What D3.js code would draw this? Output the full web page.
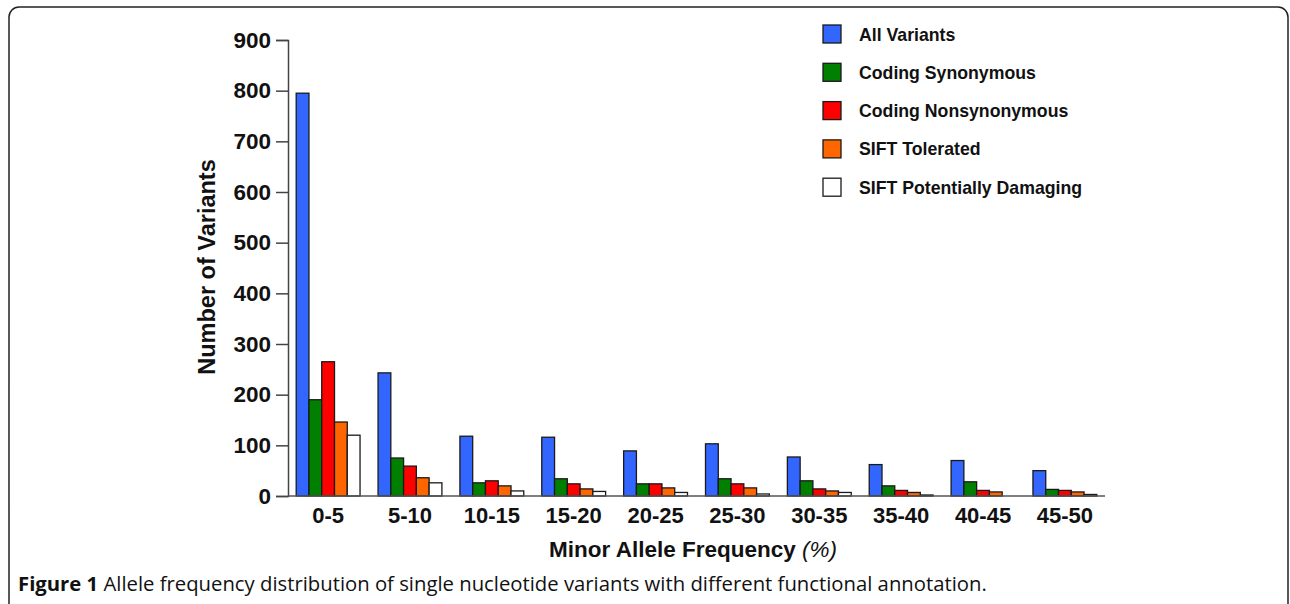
<!DOCTYPE html>
<html>
<head>
<meta charset="utf-8">
<script src="https://cdn.jsdelivr.net/npm/d3@7"></script>
<style>
  body { margin: 0; background: #fff; }
  svg { display: block; }
</style>
</head>
<body>
<div id="chart"></div>
<script>
// bins of minor allele frequency (%)
const categories = ["0-5", "5-10", "10-15", "15-20", "20-25", "25-30", "30-35", "35-40", "40-45", "45-50"];
const seriesNames = ["All Variants", "Coding Synonymous", "Coding Nonsynonymous", "SIFT Tolerated", "SIFT Potentially Damaging"];
const allVariants   = [795, 243, 118, 116, 89, 103, 77, 62, 70, 50];
const codingSyn     = [190, 75, 26, 34, 24, 34, 30, 20, 28, 13];
const codingNonsyn  = [265, 59, 30, 24, 24, 24, 14, 11, 11, 11];
const siftTolerated = [146, 36, 20, 14, 16, 16, 10, 7, 8, 8];
const siftDamaging  = [120, 26, 10, 9, 7, 4, 7, 2, 0, 3];
const yTicks = [0, 100, 200, 300, 400, 500, 600, 700, 800, 900];

const colors = ["#3366ff", "#007f00", "#ff0000", "#ff6600", "#ffffff"];
const series = [allVariants, codingSyn, codingNonsyn, siftTolerated, siftDamaging];

const W = 1290, H = 604;
const svg = d3.select("#chart").append("svg")
    .attr("width", W)
    .attr("height", H);

// figure frame
svg.append("rect")
    .attr("x", 9).attr("y", 7)
    .attr("width", 1279).attr("height", 606)
    .attr("rx", 10).attr("ry", 10)
    .attr("fill", "none")
    .attr("stroke", "#222")
    .attr("stroke-width", 1.5);

const plotLeft = 288, plotRight = 1105, plotTop = 40, plotBottom = 496;

const x = d3.scaleBand()
    .domain(categories)
    .range([plotLeft, plotRight])
    .paddingInner(0.22)
    .paddingOuter(0.1);

const xs = d3.scaleBand()
    .domain(d3.range(seriesNames.length))
    .range([0, x.bandwidth()]);

const y = d3.scaleLinear()
    .domain([0, 900])
    .range([plotBottom, plotTop]);

const font = "'Liberation Sans', Arial, sans-serif";

// bars
const groups = svg.append("g").selectAll("g")
    .data(categories)
  .enter().append("g")
    .attr("transform", function(d) { return "translate(" + x(d) + ",0)"; });

groups.selectAll("rect")
    .data(function(d, i) { return series.map(function(s, k) { return {k: k, v: s[i]}; }); })
  .enter().append("rect")
    .attr("x", function(d) { return xs(d.k); })
    .attr("width", xs.bandwidth())
    .attr("y", function(d) { return y(d.v); })
    .attr("height", function(d) { return plotBottom - y(d.v); })
    .attr("fill", function(d) { return colors[d.k]; })
    .attr("stroke", "#1a1a1a")
    .attr("stroke-width", 1.3);

// y axis
const yAxis = svg.append("g")
    .attr("transform", "translate(" + plotLeft + ",0)")
    .call(d3.axisLeft(y).tickValues(yTicks).tickSize(12).tickPadding(5).tickFormat(d3.format("d")));
yAxis.select(".domain").attr("stroke", "#444").attr("stroke-width", 1.5);
yAxis.selectAll(".tick line").attr("stroke", "#444").attr("stroke-width", 1.5);
yAxis.selectAll("text")
    .attr("font-family", font)
    .attr("font-weight", "bold")
    .attr("font-size", 22.5)
    .attr("fill", "#111");

// x axis baseline and labels
svg.append("line")
    .attr("x1", plotLeft).attr("x2", plotRight)
    .attr("y1", plotBottom).attr("y2", plotBottom)
    .attr("stroke", "#555").attr("stroke-width", 1.5);

svg.append("g").selectAll("text")
    .data(categories)
  .enter().append("text")
    .attr("x", function(d) { return x(d) + x.bandwidth() / 2; })
    .attr("y", 523)
    .attr("text-anchor", "middle")
    .attr("font-family", font)
    .attr("font-weight", "bold")
    .attr("font-size", 22)
    .attr("fill", "#111")
    .text(function(d) { return d; });

// axis titles
const xTitle = svg.append("text")
    .attr("x", 693)
    .attr("y", 557)
    .attr("text-anchor", "middle")
    .attr("font-family", font)
    .attr("font-size", 22.5)
    .attr("fill", "#111");
xTitle.append("tspan").attr("font-weight", "bold").text("Minor Allele Frequency ");
xTitle.append("tspan").attr("font-style", "italic").text("(%)");

svg.append("text")
    .attr("transform", "translate(215," + 267 + ")rotate(-90)")
    .attr("text-anchor", "middle")
    .attr("font-family", font)
    .attr("font-weight", "bold")
    .attr("font-size", 23.5)
    .attr("fill", "#111")
    .text("Number of Variants");

// legend
const legend = svg.append("g").selectAll("g")
    .data(seriesNames)
  .enter().append("g")
    .attr("transform", function(d, i) { return "translate(823," + (25 + i * 38.3) + ")"; });

legend.append("rect")
    .attr("width", 18).attr("height", 18)
    .attr("fill", function(d, i) { return colors[i]; })
    .attr("stroke", "#1a1a1a")
    .attr("stroke-width", 1.3);

legend.append("text")
    .attr("x", 36)
    .attr("y", 15.5)
    .attr("font-family", font)
    .attr("font-weight", "bold")
    .attr("font-size", 17.7)
    .attr("fill", "#111")
    .text(function(d) { return d; });

// caption
const caption = svg.append("text")
    .attr("x", 18)
    .attr("y", 591)
    .attr("font-family", "'Open Sans', sans-serif")
    .attr("font-size", 20.3)
    .attr("fill", "#111");
caption.append("tspan").attr("font-weight", "bold").text("Figure 1 ");
caption.append("tspan").text("Allele frequency distribution of single nucleotide variants with different functional annotation.");
</script>
</body>
</html>
